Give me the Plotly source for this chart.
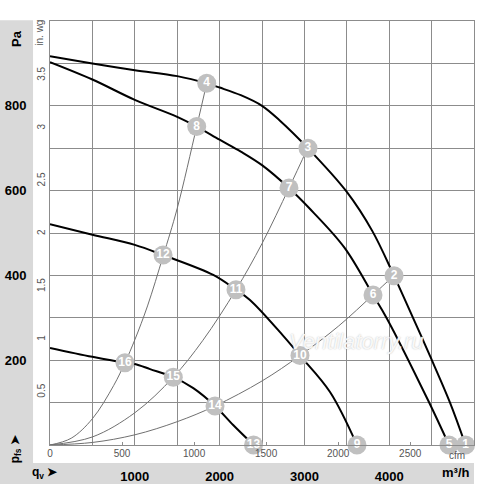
import plotly.graph_objects as go

# fan curves, airflow in m3/h and static pressure in Pa
q_a = [0, 500, 1000, 1500, 1848, 2000, 2250, 2500, 2712, 3042, 3500, 3800, 4057, 4281, 4481, 4717, 4900]
p_a = [917, 900, 884, 870, 853, 843, 825, 800, 765, 700, 597, 505, 399, 300, 210, 100, 0]

q_b = [0, 500, 1000, 1500, 1730, 2000, 2250, 2500, 2818, 3050, 3470, 3809, 3974, 4457, 4705]
p_b = [903, 862, 814, 774, 751, 720, 692, 660, 606, 560, 466, 354, 298, 106, 0]

q_c = [0, 500, 1000, 1333, 1925, 2193, 2358, 2748, 2948, 3302, 3620]
p_c = [521, 496, 472, 448, 401, 366, 342, 258, 211, 125, 0]

q_d = [0, 500, 884, 1000, 1180, 1454, 1690, 1946, 2160, 2400]
p_d = [229, 208, 194, 191, 179, 160, 134, 92, 47, 0]

# system curves through the operating points
q_s1 = [0, 250, 500, 750, 884, 1000, 1150, 1333, 1500, 1730, 1848]
p_s1 = [0, 16, 62, 140, 194, 248, 328, 445, 558, 751, 853]

q_s2 = [0, 500, 1000, 1454, 1800, 2193, 2500, 2818, 3042]
p_s2 = [0, 19, 76, 160, 246, 366, 475, 606, 702]

q_s3 = [0, 500, 1000, 1500, 1946, 2500, 2948, 3400, 3809, 4057]
p_s3 = [0, 6, 24, 55, 92, 151, 211, 280, 354, 400]

# numbered operating points
pt_labels = ['1', '2', '3', '4', '5', '6', '7', '8',
             '9', '10', '11', '12', '13', '14', '15', '16']
pt_q = [4900, 4057, 3042, 1848, 4705, 3809, 2818, 1730,
        3620, 2948, 2193, 1333, 2400, 1946, 1454, 884]
pt_p = [0, 399, 700, 853, 0, 354, 606, 751,
        0, 211, 366, 448, 0, 92, 160, 194]

m3h_ticks = [0, 500, 1000, 1500, 2000, 2500, 3000, 3500, 4000, 4500, 5000]
m3h_text = ['', '', '1000', '', '2000', '', '3000', '', '4000', '', '']
pa_ticks = [0, 100, 200, 300, 400, 500, 600, 700, 800, 900, 1000]
pa_text = ['', '', '200', '', '400', '', '600', '', '800', '', '']
cfm_ticks = [0, 500, 1000, 1500, 2000, 2500]
inwg_ticks = [0.5, 1, 1.5, 2, 2.5, 3, 3.5]

FONT = 'Liberation Sans, Arial, sans-serif'
GRID = '#8c8c8c'
BAND = '#d9d9d9'

fig = go.Figure()

for q, p in [(q_s1, p_s1), (q_s2, p_s2), (q_s3, p_s3)]:
    fig.add_trace(go.Scatter(x=q, y=p, mode='lines', line=dict(color='#707070', width=1, shape='spline'),
                             hoverinfo='skip', showlegend=False))

for q, p in [(q_a, p_a), (q_b, p_b), (q_c, p_c), (q_d, p_d)]:
    fig.add_trace(go.Scatter(x=q, y=p, mode='lines', line=dict(color='black', width=2, shape='spline'),
                             hoverinfo='skip', showlegend=False))

fig.add_trace(go.Scatter(x=pt_q, y=pt_p, mode='markers+text', text=pt_labels,
                         marker=dict(size=19, color='#c0c0c0'),
                         textfont=dict(color='white', size=12, family=FONT, weight='bold'),
                         textposition='middle center', cliponaxis=False,
                         hoverinfo='skip', showlegend=False))

# dummy traces so the secondary unit axes get drawn
fig.add_trace(go.Scatter(x=[0, 5000 / 1.699], y=[0, 0], xaxis='x2', yaxis='y', mode='markers',
                         marker=dict(opacity=0), hoverinfo='skip', showlegend=False))
fig.add_trace(go.Scatter(x=[0, 0], y=[0, 1000 / 249.09], xaxis='x', yaxis='y2', mode='markers',
                         marker=dict(opacity=0), hoverinfo='skip', showlegend=False))

# grey label bands
fig.add_shape(type='rect', xref='paper', yref='paper', x0=-0.118, x1=-0.040, y0=-0.092, y1=1.002,
              fillcolor=BAND, line_width=0, layer='below')
fig.add_shape(type='rect', xref='paper', yref='paper', x0=-0.118, x1=1.0, y0=-0.092, y1=-0.0425,
              fillcolor=BAND, line_width=0, layer='below')

ann = [
    dict(text='<b>Pa</b>', x=-0.078, y=0.96, textangle=-90, font=dict(size=13, color='black')),
    dict(text='<b>p<sub>fs</sub> ➤</b>', x=-0.080, y=-0.01, textangle=-90, font=dict(size=12, color='black')),
    dict(text='<b>q<sub>v</sub> ➤</b>', x=-0.012, y=-0.066, font=dict(size=12, color='black')),
    dict(text='<b>m³/h</b>', x=0.958, y=-0.066, font=dict(size=13, color='black')),
    dict(text='cfm', x=0.96, y=-0.024, font=dict(size=10, color='#555555')),
    dict(text='in. wg', x=-0.024, y=0.972, textangle=-90, font=dict(size=10, color='#555555')),
    dict(text='<i>Ventilatorry.ru</i>', x=3620, y=243, xref='x', yref='y',
         font=dict(size=22, color='rgba(255,255,255,0.9)', shadow='0px 0px 1.5px #b0b0b0')),
]
for a in ann:
    a.setdefault('xref', 'paper')
    a.setdefault('yref', 'paper')
    a['showarrow'] = False
    a['xanchor'] = 'center'
    a['yanchor'] = 'middle'
    a['font'].setdefault('family', FONT)
    fig.add_annotation(**a)

fig.update_layout(
    width=500, height=484,
    margin=dict(l=50, r=26, t=21, b=39),
    plot_bgcolor='white', paper_bgcolor='white',
    font=dict(family=FONT),
    xaxis=dict(range=[0, 5000], tickvals=m3h_ticks, ticktext=m3h_text, automargin=False,
               showgrid=True, gridcolor=GRID, gridwidth=1, zeroline=False,
               showline=True, linecolor=GRID, mirror=True, ticks='',
               tickfont=dict(size=13, color='black', weight='bold'), ticklabelstandoff=19),
    yaxis=dict(range=[0, 1000], tickvals=pa_ticks, ticktext=pa_text, automargin=False,
               showgrid=True, gridcolor=GRID, gridwidth=1, zeroline=False,
               showline=True, linecolor=GRID, mirror=True, ticks='',
               tickfont=dict(size=13, color='black', weight='bold'), ticklabelstandoff=20),
    xaxis2=dict(range=[0, 5000 / 1.699], overlaying='x', anchor='y', side='bottom', automargin=False,
                tickvals=cfm_ticks, showgrid=False, zeroline=False, showline=False,
                ticks='inside', ticklen=3, tickcolor=GRID,
                tickfont=dict(size=10, color='#555555'), ticklabelstandoff=1),
    yaxis2=dict(range=[0, 1000 / 249.09], overlaying='y', anchor='x', side='left', automargin=False,
                tickvals=inwg_ticks, showgrid=False, zeroline=False, showline=False,
                ticks='', tickangle=-90,
                tickfont=dict(size=10, color='#555555'), ticklabelstandoff=2),
)

# the page's default body margin would shift the chart by 8px
fig.write_html('out.html', config={'displayModeBar': False},
               post_script="document.body.style.margin='0';")
